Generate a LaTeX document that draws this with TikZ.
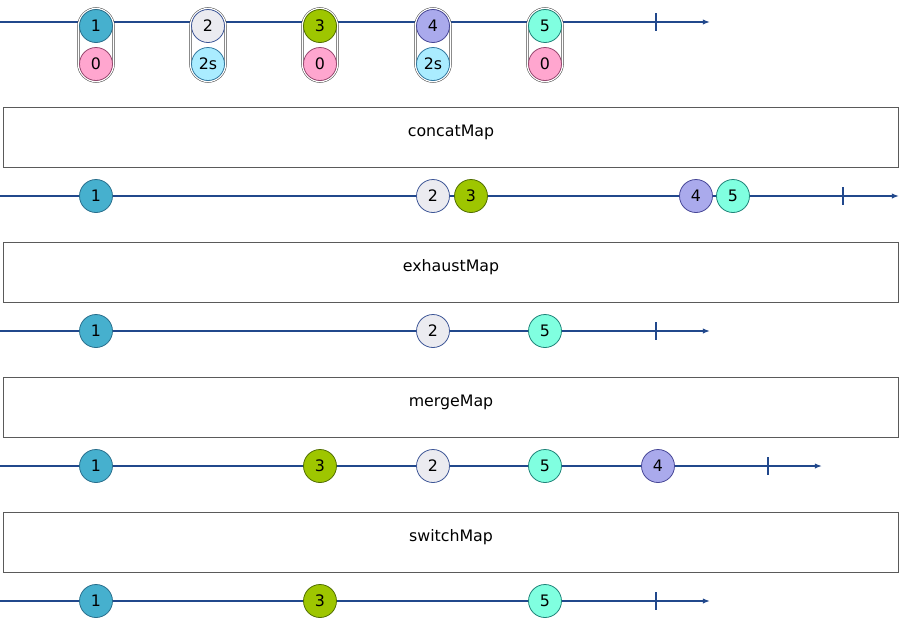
\documentclass[tikz,border=0pt]{standalone}
\usepackage{fontspec}
\setmainfont{DejaVu Sans}
\usepackage{xcolor}
\usetikzlibrary{arrows.meta}
\definecolor{rx-line}{RGB}{33, 72, 140}
\definecolor{rx-box}{RGB}{90, 90, 90}
\definecolor{rx-one}{RGB}{70, 176, 206}
\definecolor{rx-one-d}{RGB}{40, 110, 140}
\definecolor{rx-two}{RGB}{235, 235, 240}
\definecolor{rx-two-d}{RGB}{60, 85, 150}
\definecolor{rx-three}{RGB}{158, 198, 0}
\definecolor{rx-three-d}{RGB}{80, 110, 0}
\definecolor{rx-four}{RGB}{170, 170, 236}
\definecolor{rx-four-d}{RGB}{70, 70, 150}
\definecolor{rx-five}{RGB}{128, 255, 224}
\definecolor{rx-five-d}{RGB}{30, 130, 120}
\definecolor{rx-zero}{RGB}{255, 166, 207}
\definecolor{rx-zero-d}{RGB}{150, 70, 110}
\definecolor{rx-sec}{RGB}{170, 236, 255}
\definecolor{rx-sec-d}{RGB}{50, 120, 160}

\begin{document}
\begin{tikzpicture}[x=0.02cm, y=-0.02cm,
    timeline/.style={rx-line, line width=0.8pt, -{Latex[length=4pt, width=3pt]}},
    endtick/.style={rx-line, line width=1.5pt},
    marble/.style={circle, minimum size=0.66cm, inner sep=0pt, line width=0.45pt},
    pill/.style={draw=black!70, double=white, double distance=0.9pt, line width=0.3pt,
      fill=white, rounded corners=0.36cm, minimum width=0.7cm, minimum height=1.46cm, inner sep=0pt},
    opbox/.style={draw=rx-box, line width=0.5pt, minimum width=17.92cm, minimum height=1.2cm, inner sep=0pt}]
  \fontsize{9}{11}\selectfont
  \useasboundingbox (0,0) rectangle (900,637);

  % source
  \coordinate (s0) at (0,22);
  \coordinate (s1) at (710,22);
  \draw[timeline] (s0) -- (s1);
  \draw[endtick] (656,13) -- (656,31);
  \node[pill] (p1) at (96,45) {};
  \node[pill] (p2) at (208,45) {};
  \node[pill] (p3) at (320,45) {};
  \node[pill] (p4) at (433,45) {};
  \node[pill] (p5) at (545,45) {};
  \node[marble, fill=rx-one, draw=rx-one-d] (a1) at (96,26) {1};
  \node[marble, fill=rx-two, draw=rx-two-d] (a2) at (208,26) {2};
  \node[marble, fill=rx-three, draw=rx-three-d] (a3) at (320,26) {3};
  \node[marble, fill=rx-four, draw=rx-four-d] (a4) at (433,26) {4};
  \node[marble, fill=rx-five, draw=rx-five-d] (a5) at (545,26) {5};
  \node[marble, fill=rx-zero, draw=rx-zero-d] (d1) at (96,64) {0};
  \node[marble, fill=rx-sec, draw=rx-sec-d] (d2) at (208,64) {2s};
  \node[marble, fill=rx-zero, draw=rx-zero-d] (d3) at (320,64) {0};
  \node[marble, fill=rx-sec, draw=rx-sec-d] (d4) at (433,64) {2s};
  \node[marble, fill=rx-zero, draw=rx-zero-d] (d5) at (545,64) {0};

  % concatMap
  \node[opbox] (concat) at (451,137) {};
  \node (concatlabel) at (451,132) {concatMap};
  \coordinate (c0) at (0,196);
  \coordinate (c1) at (899,196);
  \draw[timeline] (c0) -- (c1);
  \draw[endtick] (843,187) -- (843,205);
  \node[marble, fill=rx-one, draw=rx-one-d] (b1) at (96,196) {1};
  \node[marble, fill=rx-two, draw=rx-two-d] (b2) at (433,196) {2};
  \node[marble, fill=rx-three, draw=rx-three-d] (b3) at (471,196) {3};
  \node[marble, fill=rx-four, draw=rx-four-d] (b4) at (696,196) {4};
  \node[marble, fill=rx-five, draw=rx-five-d] (b5) at (733,196) {5};

  % exhaustMap
  \node[opbox] (exhaust) at (451,272) {};
  \node (exhaustlabel) at (451,267) {exhaustMap};
  \coordinate (e0) at (0,331);
  \coordinate (e1) at (710,331);
  \draw[timeline] (e0) -- (e1);
  \draw[endtick] (656,322) -- (656,340);
  \node[marble, fill=rx-one, draw=rx-one-d] (x1) at (96,331) {1};
  \node[marble, fill=rx-two, draw=rx-two-d] (x2) at (433,331) {2};
  \node[marble, fill=rx-five, draw=rx-five-d] (x5) at (545,331) {5};

  % mergeMap
  \node[opbox] (merge) at (451,407) {};
  \node (mergelabel) at (451,402) {mergeMap};
  \coordinate (m0) at (0,466);
  \coordinate (m1) at (822,466);
  \draw[timeline] (m0) -- (m1);
  \draw[endtick] (768,457) -- (768,475);
  \node[marble, fill=rx-one, draw=rx-one-d] (m1n) at (96,466) {1};
  \node[marble, fill=rx-three, draw=rx-three-d] (m3n) at (320,466) {3};
  \node[marble, fill=rx-two, draw=rx-two-d] (m2n) at (433,466) {2};
  \node[marble, fill=rx-five, draw=rx-five-d] (m5n) at (545,466) {5};
  \node[marble, fill=rx-four, draw=rx-four-d] (m4n) at (658,466) {4};

  % switchMap
  \node[opbox] (switch) at (451,542) {};
  \node (switchlabel) at (451,537) {switchMap};
  \coordinate (w0) at (0,601);
  \coordinate (w1) at (710,601);
  \draw[timeline] (w0) -- (w1);
  \draw[endtick] (656,592) -- (656,610);
  \node[marble, fill=rx-one, draw=rx-one-d] (w1n) at (96,601) {1};
  \node[marble, fill=rx-three, draw=rx-three-d] (w3n) at (320,601) {3};
  \node[marble, fill=rx-five, draw=rx-five-d] (w5n) at (545,601) {5};
\end{tikzpicture}
\end{document}
